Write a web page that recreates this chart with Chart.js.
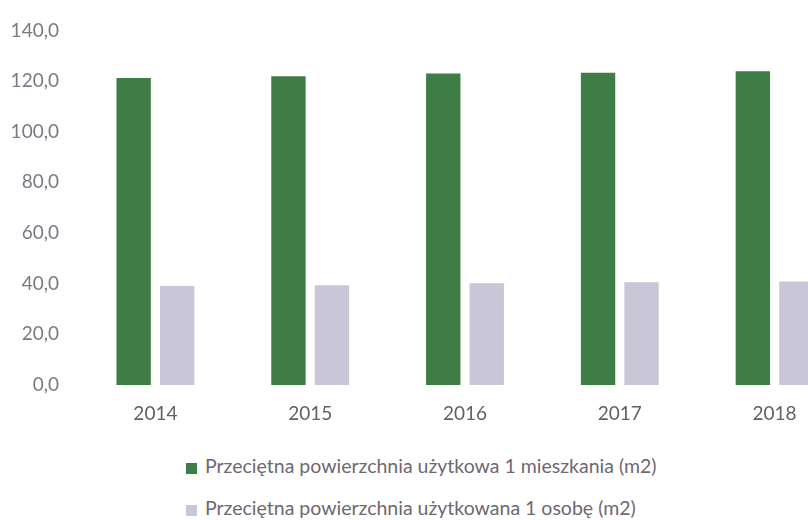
<!DOCTYPE html>
<html>
<head>
<meta charset="utf-8">
<script src="https://cdn.jsdelivr.net/npm/chart.js@4"></script>
<style>
  html, body { margin: 0; padding: 0; background: #fff; overflow: hidden; }
  #wrap { position: relative; width: 860px; height: 440px; }
  #legend { position: absolute; left: 186px; top: 455px; font-family: Lato, sans-serif; font-size: 19.5px; color: #6e6873; }
  #legend div { height: 22px; line-height: 22px; margin-bottom: 20px; white-space: nowrap; }
  #legend span { display: inline-block; width: 11px; height: 11px; margin-right: 8px; vertical-align: -1px; }
</style>
</head>
<body>
<div id="wrap"><canvas id="areaChart"></canvas></div>
<div id="legend"></div>
<script>
// data
const years = ['2014', '2015', '2016', '2017', '2018'];
const perDwelling = [121.2, 121.9, 123.0, 123.3, 123.9];
const perPerson = [39.1, 39.4, 40.2, 40.6, 40.9];
const seriesNames = [
    'Przeciętna powierzchnia użytkowa 1 mieszkania (m2)',
    'Przeciętna powierzchnia użytkowana 1 osobę (m2)'
];
const yMin = 0, yMax = 140, yStep = 20;

// simple html legend, rows left aligned like in the original
const htmlLegend = {
    id: 'htmlLegend',
    afterUpdate(chart) {
        const box = document.getElementById('legend');
        box.innerHTML = '';
        chart.data.datasets.forEach(ds => {
            const row = document.createElement('div');
            const mark = document.createElement('span');
            mark.style.background = ds.backgroundColor;
            row.appendChild(mark);
            row.appendChild(document.createTextNode(ds.label));
            box.appendChild(row);
        });
    }
};

const ctx = document.getElementById('areaChart').getContext('2d');
const areaChart = new Chart(ctx, {
    type: 'bar',
    data: {
        labels: years,
        datasets: [{
            label: seriesNames[0],
            data: perDwelling,
            backgroundColor: '#3f7d47'
        }, {
            label: seriesNames[1],
            data: perPerson,
            backgroundColor: '#c9c6d8'
        }]
    },
    options: {
        responsive: true,
        maintainAspectRatio: false,
        animation: false,
        categoryPercentage: 0.562,
        barPercentage: 0.79,
        layout: { padding: { top: 27, right: 8, bottom: 0, left: 0 } },
        plugins: {
            legend: { display: false },
            tooltip: { enabled: false }
        },
        scales: {
            x: {
                grid: { display: false, drawTicks: false },
                border: { display: false },
                ticks: { color: '#626064', padding: 17, font: { family: 'Lato', size: 19 } },
                afterFit: scale => { scale.height = 55; }
            },
            y: {
                min: yMin,
                max: yMax,
                grid: { display: false, drawTicks: false },
                border: { display: false },
                ticks: {
                    stepSize: yStep,
                    padding: 19,
                    color: '#7f7884',
                    font: { family: 'Lato', size: 19 },
                    callback: v => v.toFixed(1).replace('.', ',')
                },
                afterFit: scale => { scale.width = 78; }
            }
        }
    },
    plugins: [htmlLegend]
});
</script>
</body>
</html>
